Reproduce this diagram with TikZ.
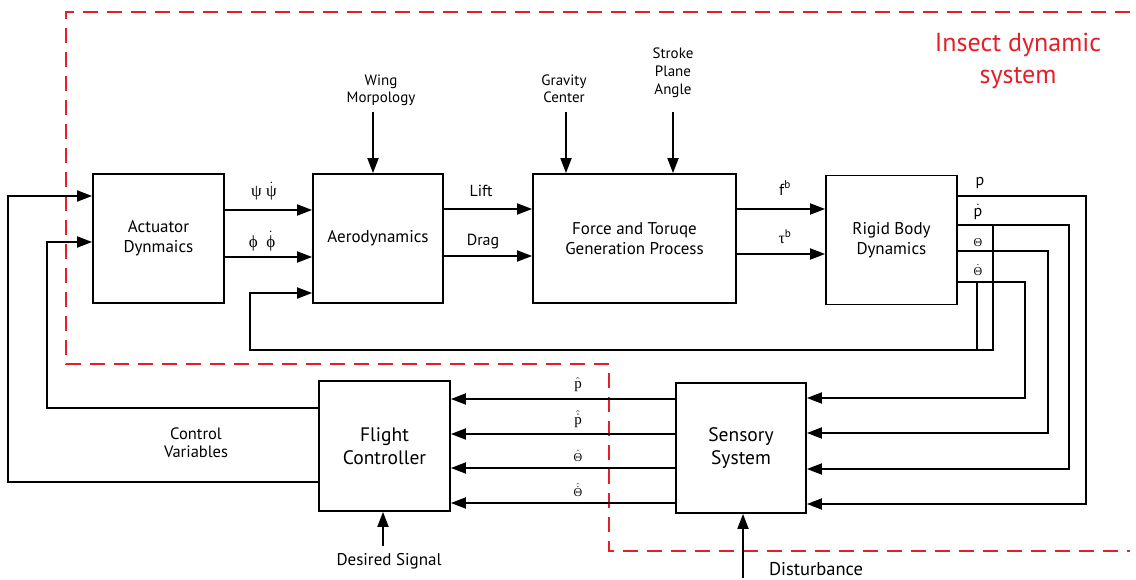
\documentclass[tikz,border=0pt]{standalone}
\usepackage{fontspec}
\setmainfont{PT Sans}
\newfontfamily\grk{Liberation Serif}
\usetikzlibrary{arrows.meta}
\definecolor{dred}{RGB}{230,30,40}
\newcommand\dotted[1]{$\dot{\mbox{#1}}$}
\begin{document}
\begin{tikzpicture}[x=1pt,y=-1pt,
  blk/.style={draw, line width=1.8pt, minimum width=131pt, minimum height=129pt, align=center, font=\fontsize{17}{20}\selectfont, inner sep=0pt},
  arr/.style={line width=1.8pt, -{Triangle[length=15pt,width=11pt]}},
  ln/.style={line width=1.8pt},
  lbl/.style={font=\fontsize{15}{17}\selectfont, align=center, inner sep=0pt},
  sig/.style={font=\fontsize{16}{17}\selectfont, inner sep=0pt}]
\useasboundingbox (0,0) rectangle (1136,580);
% red dashed boundary
\draw[dred, line width=2pt, dash pattern=on 15pt off 9pt]
  (1130,12) -- (66,12) -- (66,364) -- (609,364) -- (609,551) -- (1130,551);
\node[dred, font=\fontsize{26}{32}\selectfont, align=center, inner sep=0pt] (title) at (1018,61) {Insect dynamic\\system};
% blocks
\node[blk] (act) at (158.5,238.5) {Actuator\\Dynmaics};
\node[blk, minimum width=130pt] (aero) at (378,238.5) {Aerodynamics};
\node[blk, minimum width=203pt] (frc) at (634.5,238.5) {Force and Toruqe\\Generation Process};
\node[blk] (rb) at (891.5,240) {Rigid Body\\Dynamics};
\node[blk, font=\fontsize{19.5}{23}\selectfont, minimum height=130pt] (fc) at (384.5,446) {Flight\\Controller};
\node[blk, font=\fontsize{19.5}{23}\selectfont, minimum width=130pt, minimum height=130pt] (ss) at (741,448) {Sensory\\System};
% top inputs
\node[lbl] (wm) at (381,90) {Wing\\Morpology};
\node[lbl] (gc) at (564,89) {Gravity\\Center};
\node[lbl, font=\fontsize{15}{18}\selectfont] (spa) at (673,73) {Stroke\\Plane\\Angle};
\coordinate (wmt) at (373,112);
\coordinate (gct) at (566,112);
\coordinate (spat) at (673,112);
\draw[arr] (wmt) -- (wmt |- aero.north);
\draw[arr] (gct) -- (gct |- frc.north);
\draw[arr] (spat) -- (spat |- frc.north);
% actuator -> aero
\draw[arr] (act.east |- 0,210) -- (aero.west |- 0,210);
\draw[arr] (act.east |- 0,257) -- (aero.west |- 0,257);
\node[sig, font=\fontsize{17}{17}\selectfont\grk] (l1) at (264,191) {ψ \dotted{ψ}};
\node[sig, font=\fontsize{17}{17}\selectfont\grk] (l2) at (262,241) {ϕ\ \ \dotted{ϕ}};
% aero -> force
\draw[arr] (aero.east |- 0,209) -- (frc.west |- 0,209);
\draw[arr] (aero.east |- 0,256) -- (frc.west |- 0,256);
\node[sig] (lift) at (481,191) {Lift};
\node[sig] (drag) at (483,242) {Drag};
% force -> rigid body
\draw[arr] (frc.east |- 0,209) -- (rb.west |- 0,209);
\draw[arr] (frc.east |- 0,254) -- (rb.west |- 0,254);
\node[sig] (fb) at (785,188) {f\textsuperscript{b}};
\node[sig] (tb) at (785,237) {{\grk τ}\textsuperscript{b}};
% rigid body outputs
\node[sig] (lp) at (980,183) {p};
\node[sig] (lpd) at (978,212) {\dotted{p}};
\node[sig, font=\fontsize{12}{13}\selectfont\grk] (lth) at (978,243) {Θ};
\node[sig, font=\fontsize{12}{13}\selectfont\grk] (lthd) at (978,270) {\dotted{Θ}};
\draw[arr] (rb.east |- 0,196) -- (1086,196) -- (1086,504) -- (ss.east |- 0,504);
\draw[arr] (rb.east |- 0,225) -- (1069,225) -- (1069,469) -- (ss.east |- 0,469);
\draw[arr] (rb.east |- 0,251) -- (1048,251) -- (1048,433) -- (ss.east |- 0,433);
\draw[arr] (rb.east |- 0,282) -- (1025,282) -- (1025,398) -- (ss.east |- 0,398);
% feedback to aerodynamics
\draw[ln] (977,282) -- (977,350);
\draw[arr] (993,225) -- (993,350) -- (250,350) -- (250,293) -- (aero.west |- 0,293);
% sensory -> flight controller
\draw[arr] (ss.west |- 0,399) -- (fc.east |- 0,399);
\draw[arr] (ss.west |- 0,434) -- (fc.east |- 0,434);
\draw[arr] (ss.west |- 0,468) -- (fc.east |- 0,468);
\draw[arr] (ss.west |- 0,503) -- (fc.east |- 0,503);
\node[sig, font=\fontsize{15}{15}\selectfont\grk] (h1) at (578,385) {$\hat{\mbox{p}}$};
\node[sig, font=\fontsize{15}{15}\selectfont\grk] (h2) at (578,419) {$\hat{\dot{\mbox{p}}}$};
\node[sig, font=\fontsize{12}{13}\selectfont\grk] (h3) at (578,456) {$\hat{\mbox{Θ}}$};
\node[sig, font=\fontsize{12}{13}\selectfont\grk] (h4) at (578,490) {$\hat{\dot{\mbox{Θ}}}$};
% flight controller -> actuator
\draw[arr] (fc.west |- 0,408) -- (47,408) -- (47,242) -- (act.west |- 0,242);
\draw[arr] (fc.west |- 0,482) -- (8,482) -- (8,196) -- (act.west |- 0,196);
\node[lbl, font=\fontsize{16.5}{18}\selectfont] (cv) at (196,443) {Control\\Variables};
% desired signal
\node[sig, font=\fontsize{17}{18}\selectfont] (ds) at (389,561) {Desired Signal};
\coordinate (dst) at (383,546);
\draw[arr] (dst) -- (dst |- fc.south);
% disturbance
\node[sig, font=\fontsize{18.5}{19}\selectfont] (dist) at (816,569) {Disturbance};
\coordinate (dib) at (743,578);
\draw[arr] (dib) -- (dib |- ss.south);
\end{tikzpicture}
\end{document}
